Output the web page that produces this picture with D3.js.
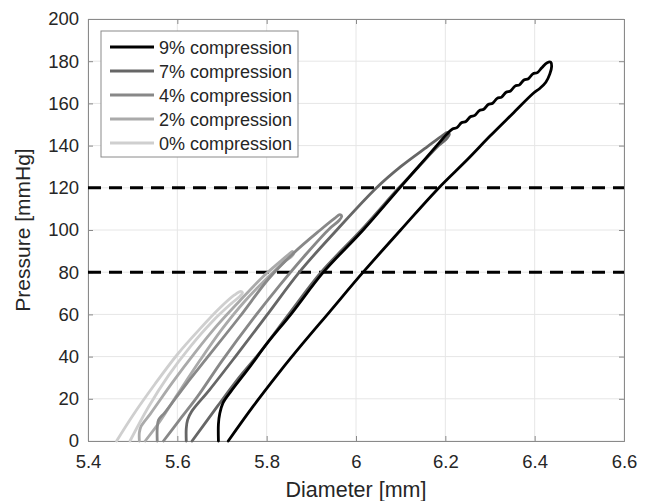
<!doctype html>
<html>
  <head>
    <meta charset="utf-8">
    <title>Pressure vs Diameter</title>
    <script src="https://d3js.org/d3.v7.min.js"></script>
    <style>
      body { margin: 0; background: #fff; }
      text { font-family: "Liberation Sans", Arial, sans-serif; fill: #262626; }
    </style>
  </head>
  <body>
    <script>
      // series names (legend order)
      const seriesNames = ['9% compression', '7% compression', '4% compression', '2% compression', '0% compression'];

      // [diameter mm, pressure mmHg], traced around each loop
      const comp9 = [
        [5.692, 0], [5.692, 8], [5.695, 13], [5.702, 18], [5.72, 23.5], [5.76, 34.5], [5.80, 46],
        [5.856, 60.5], [5.927, 80], [6.016, 100], [6.098, 120], [6.15, 132.5], [6.206, 146],
        [6.216, 147.9], [6.226, 148.5], [6.236, 150.8], [6.246, 151.4], [6.256, 153.7], [6.266, 154.3],
        [6.276, 156.6], [6.286, 157.2], [6.296, 159.5], [6.306, 160.1], [6.316, 162.4], [6.326, 163.0],
        [6.336, 165.3], [6.346, 165.9], [6.356, 168.2], [6.366, 168.8], [6.376, 171.1], [6.386, 171.7],
        [6.396, 174.0], [6.406, 174.6], [6.416, 176.9],
        [6.428, 179.3], [6.436, 179.5], [6.438, 177.5], [6.434, 174], [6.425, 170], [6.412, 167.2], [6.397, 164.8],
        [6.35, 155], [6.30, 144.5], [6.25, 133.5], [6.181, 119], [6.10, 100], [6.016, 80], [5.94, 61],
        [5.88, 46], [5.83, 33], [5.77, 16.5], [5.714, 0]
      ];
      const comp7 = [
        [5.620, 0], [5.620, 6], [5.623, 10], [5.632, 14], [5.673, 24.5], [5.73, 40], [5.80, 59.5],
        [5.875, 80.5], [5.957, 100], [6.046, 120], [6.10, 130], [6.16, 139.5], [6.192, 144.5], [6.205, 146.2],
        [6.209, 145.5], [6.204, 143.5], [6.185, 140],
        [6.136, 129], [6.096, 120], [6.012, 100], [5.922, 80], [5.851, 60.5], [5.785, 42], [5.738, 30],
        [5.69, 16.5], [5.633, 0]
      ];
      const comp4 = [
        [5.555, 0], [5.555, 6], [5.558, 10], [5.572, 13.5], [5.62, 27], [5.665, 39], [5.74, 59],
        [5.805, 77], [5.86, 89], [5.92, 100], [5.952, 105.5], [5.964, 107.3],
        [5.968, 106.5], [5.962, 104.5],
        [5.94, 100.5], [5.89, 89], [5.83, 74], [5.77, 58], [5.70, 38], [5.645, 21], [5.605, 10], [5.569, 0]
      ];
      const comp2 = [
        [5.515, 0], [5.515, 4], [5.519, 7], [5.54, 13], [5.59, 28], [5.64, 42], [5.69, 55],
        [5.74, 66.5], [5.79, 77.5], [5.83, 85], [5.85, 88.6], [5.858, 89.8],
        [5.861, 89.2], [5.856, 87.5],
        [5.84, 85], [5.80, 77], [5.75, 66], [5.70, 53], [5.65, 38], [5.60, 22], [5.56, 9], [5.528, 0]
      ];
      const comp0 = [
        [5.464, 0], [5.50, 12], [5.55, 27], [5.60, 41], [5.65, 53], [5.695, 63], [5.728, 69.2], [5.742, 70.9],
        [5.746, 70.3], [5.741, 68.8],
        [5.72, 65], [5.68, 57], [5.63, 45], [5.58, 31], [5.535, 16], [5.494, 0]
      ];

      const xTicks = [5.4, 5.6, 5.8, 6, 6.2, 6.4, 6.6];
      const yTicks = [0, 20, 40, 60, 80, 100, 120, 140, 160, 180, 200];
      const refPressures = [80, 120];

      const seriesValues = [comp9, comp7, comp4, comp2, comp0];
      const colors = ['#000000', '#666666', '#888888', '#aaaaaa', '#cfcfcf'];

      const svgWidth = 650;
      const svgHeight = 501;
      const margin = { top: 19, right: 26, bottom: 60, left: 88 };
      const w = svgWidth - margin.left - margin.right;
      const h = svgHeight - margin.top - margin.bottom;

      const svg = d3.select('body').append('svg')
          .attr('width', svgWidth)
          .attr('height', svgHeight);

      const g = svg.append('g')
          .attr('transform', `translate(${margin.left},${margin.top})`);

      const xScale = d3.scaleLinear().domain([5.4, 6.6]).range([0, w]);
      const yScale = d3.scaleLinear().domain([0, 200]).range([h, 0]);

      // grid
      g.append('g').selectAll('line').data(xTicks).enter().append('line')
          .attr('x1', d => xScale(d)).attr('x2', d => xScale(d))
          .attr('y1', 0).attr('y2', h)
          .attr('stroke', '#e6e6e6').attr('stroke-width', 1);
      g.append('g').selectAll('line').data(yTicks).enter().append('line')
          .attr('x1', 0).attr('x2', w)
          .attr('y1', d => yScale(d)).attr('y2', d => yScale(d))
          .attr('stroke', '#e6e6e6').attr('stroke-width', 1);

      // axes (ticks inside, box on)
      const axisColor = '#8a8a8a';
      const xAxis = g.append('g')
          .attr('transform', `translate(0,${h})`)
          .call(d3.axisBottom(xScale).tickValues(xTicks).tickSize(-5).tickPadding(14).tickFormat(d3.format('')));
      const yAxis = g.append('g')
          .call(d3.axisLeft(yScale).tickValues(yTicks).tickSize(-5).tickPadding(9));
      const xTop = g.append('g')
          .call(d3.axisTop(xScale).tickValues(xTicks).tickSize(-5).tickFormat(''));
      const yRight = g.append('g')
          .attr('transform', `translate(${w},0)`)
          .call(d3.axisRight(yScale).tickValues(yTicks).tickSize(-5).tickFormat(''));
      [xAxis, yAxis, xTop, yRight].forEach(a => {
        a.selectAll('path, line').attr('stroke', axisColor);
        a.selectAll('text').style('font-size', '18.5px').attr('fill', '#262626')
          .style('font-family', '"Liberation Sans", Arial, sans-serif');
      });

      // reference lines
      g.append('g').selectAll('line').data(refPressures).enter().append('line')
          .attr('x1', 0).attr('x2', w)
          .attr('y1', d => yScale(d)).attr('y2', d => yScale(d))
          .attr('stroke', '#000').attr('stroke-width', 3)
          .attr('stroke-dasharray', '13,8');

      // loops
      const linePath = d3.line()
          .x(d => xScale(d[0]))
          .y(d => yScale(d[1]))
          .curve(d3.curveCatmullRom.alpha(0.5));
      const order = [4, 3, 2, 1, 0];
      g.append('g').attr('fill', 'none').attr('stroke-width', 2.8)
          .attr('stroke-linejoin', 'round').attr('stroke-linecap', 'round')
        .selectAll('path').data(order).enter().append('path')
          .attr('d', i => linePath(seriesValues[i]))
          .attr('stroke', i => colors[i]);

      // axis labels
      svg.append('text')
          .attr('x', margin.left + w / 2).attr('y', 497)
          .attr('text-anchor', 'middle')
          .style('font-size', '21.5px')
          .text('Diameter [mm]');
      svg.append('text')
          .attr('transform', `translate(30,${margin.top + h / 2}) rotate(-90)`)
          .attr('text-anchor', 'middle')
          .style('font-size', '21px')
          .text('Pressure [mmHg]');

      // legend
      const legend = svg.append('g').attr('transform', 'translate(101,31)');
      legend.append('rect')
          .attr('width', 197).attr('height', 126)
          .attr('fill', '#fff').attr('stroke', axisColor).attr('stroke-width', 1);
      const rows = legend.selectAll('g.row').data(seriesNames).enter().append('g')
          .attr('class', 'row')
          .attr('transform', (d, i) => `translate(0,${16 + i * 24})`);
      rows.append('line')
          .attr('x1', 9).attr('x2', 53)
          .attr('stroke', (d, i) => colors[i]).attr('stroke-width', 3);
      rows.append('text')
          .attr('x', 58).attr('y', 6.5)
          .style('font-size', '18px')
          .text(d => d);
    </script>
  </body>
</html>
